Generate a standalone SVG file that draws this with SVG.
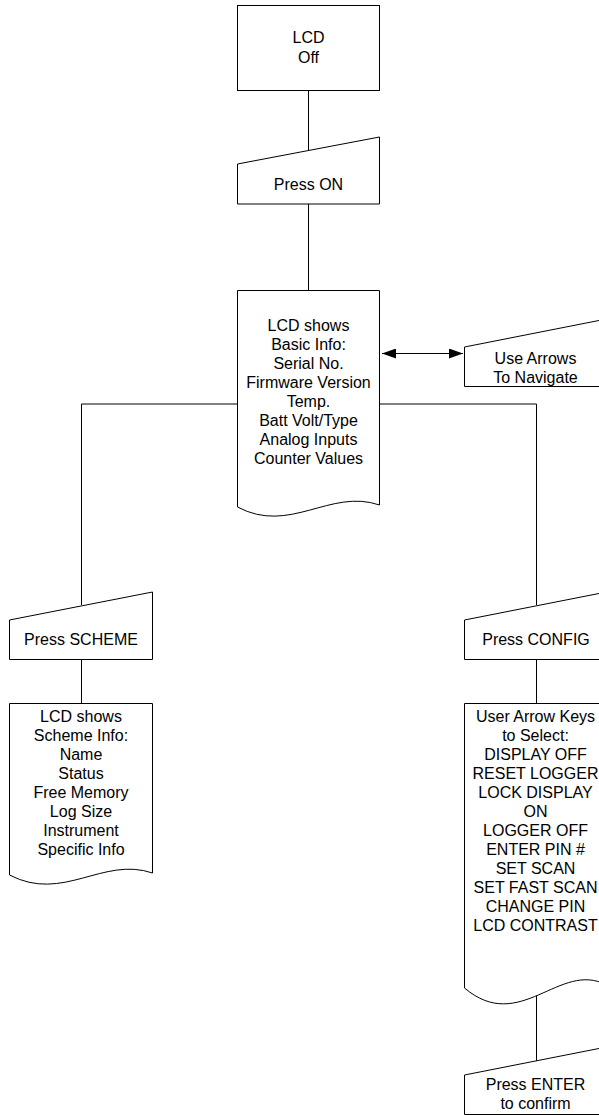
<svg xmlns="http://www.w3.org/2000/svg" width="599" height="1115" viewBox="0 0 599 1115">
<style>
.s{fill:#fff;stroke:#000;stroke-width:1}
.c{fill:none;stroke:#000;stroke-width:1}
.t{font-family:"Liberation Sans",Arial,sans-serif;font-size:16px;fill:#000;text-anchor:middle}
</style>
<defs>
<marker id="ah" markerWidth="14" markerHeight="10" refX="14" refY="5" orient="auto-start-reverse" markerUnits="userSpaceOnUse">
<path d="M0,0 L14,5 L0,10 Z" fill="#000"/>
</marker>
</defs>
<rect width="599" height="1115" fill="#fff"/>
<g id="connectors">
<path class="c" d="M308.5,91 V151"/>
<path class="c" d="M308.5,204 V290"/>
<path class="c" d="M382,353.5 H463" marker-start="url(#ah)" marker-end="url(#ah)"/>
<path class="c" d="M237,404 H81.5 V605"/>
<path class="c" d="M379,404 H536.5 V605"/>
<path class="c" d="M81.5,659 V703"/>
<path class="c" d="M536.5,659 V703"/>
<path class="c" d="M536.5,991 V1061"/>
</g>
<g id="lcd-off">
<rect class="s" x="237.5" y="5.5" width="142" height="85"/>
<text class="t" x="308.5" y="43">LCD</text>
<text class="t" x="308.5" y="62.5">Off</text>
</g>
<g id="press-on">
<path class="s" d="M237.5,164 L379.5,137 V204 H237.5 Z"/>
<text class="t" x="308.5" y="190">Press ON</text>
</g>
<g id="lcd-basic">
<path class="s" d="M237.5,290.5 H379.5 V505 C330,488 290,535 237.5,507 Z"/>
<text class="t" x="308.5" y="330.7">LCD shows</text>
<text class="t" x="308.5" y="349.7">Basic Info:</text>
<text class="t" x="308.5" y="368.7">Serial No.</text>
<text class="t" x="308.5" y="387.7">Firmware Version</text>
<text class="t" x="308.5" y="406.7">Temp.</text>
<text class="t" x="308.5" y="425.7">Batt Volt/Type</text>
<text class="t" x="308.5" y="444.7">Analog Inputs</text>
<text class="t" x="308.5" y="463.7">Counter Values</text>
</g>
<g id="use-arrows">
<path class="s" d="M464.5,347 L606.5,319 V386.5 H464.5 Z"/>
<text class="t" x="535.5" y="364">Use Arrows</text>
<text class="t" x="535.5" y="383">To Navigate</text>
</g>
<g id="press-scheme">
<path class="s" d="M9.5,620 L152.5,592 V659.5 H9.5 Z"/>
<text class="t" x="81" y="645">Press SCHEME</text>
</g>
<g id="lcd-scheme">
<path class="s" d="M9.5,703.5 H152.5 V873 C103,856 63,903 9.5,875 Z"/>
<text class="t" x="81" y="721.7">LCD shows</text>
<text class="t" x="81" y="740.7">Scheme Info:</text>
<text class="t" x="81" y="759.7">Name</text>
<text class="t" x="81" y="778.7">Status</text>
<text class="t" x="81" y="797.7">Free Memory</text>
<text class="t" x="81" y="816.7">Log Size</text>
<text class="t" x="81" y="835.7">Instrument</text>
<text class="t" x="81" y="854.7">Specific Info</text>
</g>
<g id="press-config">
<path class="s" d="M464.5,620 L606.5,592 V659.5 H464.5 Z"/>
<text class="t" x="536" y="645">Press CONFIG</text>
</g>
<g id="config-menu">
<path class="s" d="M464.5,703.5 H606.5 V985 C560,960 520,1035 464.5,988 Z"/>
<text class="t" x="535.5" y="721.7">User Arrow Keys</text>
<text class="t" x="535.5" y="740.7">to Select:</text>
<text class="t" x="535.5" y="759.7">DISPLAY OFF</text>
<text class="t" x="535.5" y="778.7">RESET LOGGER</text>
<text class="t" x="535.5" y="797.7">LOCK DISPLAY</text>
<text class="t" x="535.5" y="816.7">ON</text>
<text class="t" x="535.5" y="835.7">LOGGER OFF</text>
<text class="t" x="535.5" y="854.7">ENTER PIN #</text>
<text class="t" x="535.5" y="873.7">SET SCAN</text>
<text class="t" x="535.5" y="892.7">SET FAST SCAN</text>
<text class="t" x="535.5" y="911.7">CHANGE PIN</text>
<text class="t" x="535.5" y="930.7">LCD CONTRAST</text>
</g>
<g id="press-enter">
<path class="s" d="M464.5,1075 L606.5,1047 V1114.5 H464.5 Z"/>
<text class="t" x="535.5" y="1090">Press ENTER</text>
<text class="t" x="535.5" y="1108.5">to confirm</text>
</g>
</svg>
